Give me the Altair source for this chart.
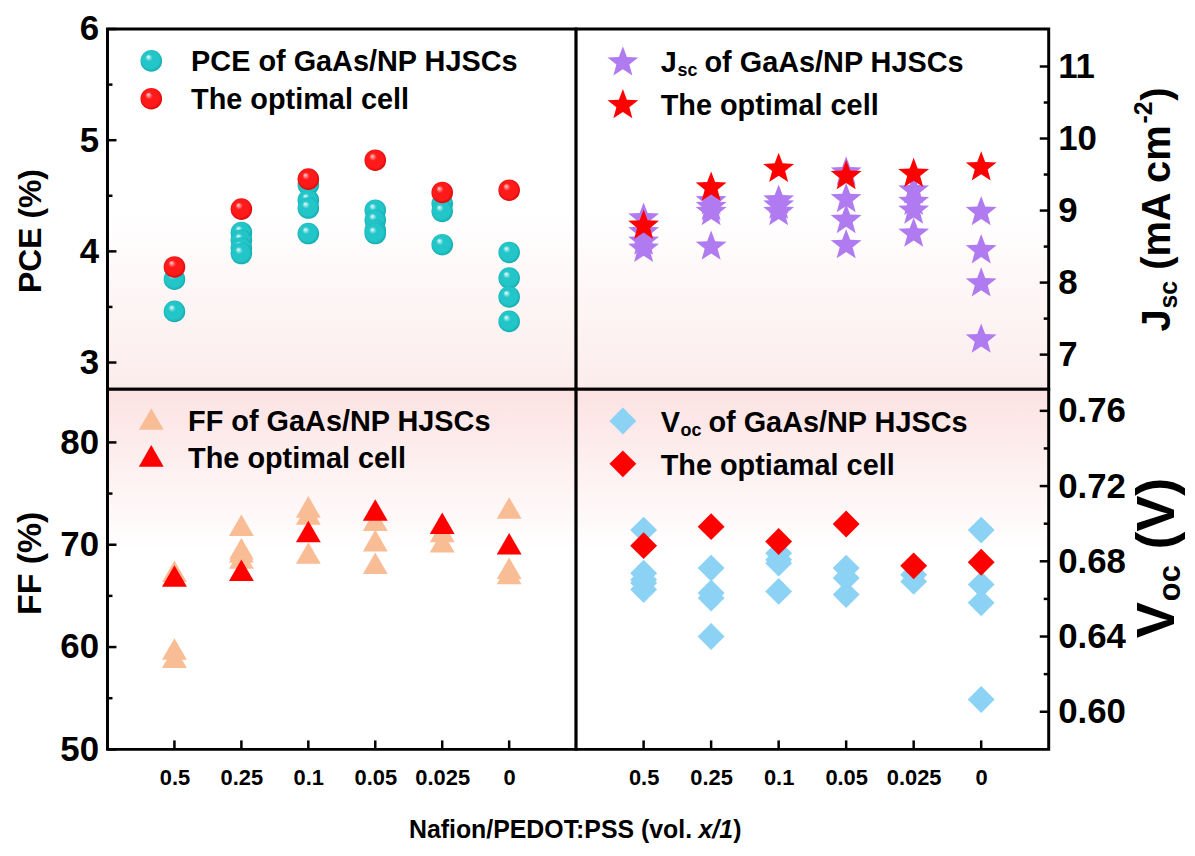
import altair as alt
import pandas as pd

FONT = "Liberation Sans"

categories = ["0.5", "0.25", "0.1", "0.05", "0.025", "0"]

# PCE (%)
pce_cells = [[3.75, 3.46], [4.17, 4.10, 4.03, 3.98], [4.60, 4.46, 4.39, 4.16],
             [4.37, 4.28, 4.19, 4.16], [4.43, 4.36, 4.06], [3.99, 3.76, 3.59, 3.37]]
pce_best = [3.86, 4.38, 4.65, 4.82, 4.53, 4.55]
pce_ticks = [3, 4, 5, 6]
pce_minor = [3.5, 4.5, 5.5]

# Jsc (mA cm-2)
jsc_cells = [[8.91, 8.72, 8.59, 8.49], [9.15, 9.07, 9.00, 8.52], [9.16, 9.09, 9.00],
             [9.55, 9.18, 8.89, 8.54], [9.30, 9.14, 9.02, 8.70], [9.00, 8.47, 8.01, 7.23]]
jsc_best = [8.81, 9.34, 9.60, 9.50, 9.53, 9.62]
jsc_ticks = [7, 8, 9, 10, 11]
jsc_minor = [7.5, 8.5, 9.5, 10.5]

# FF (%)
ff_cells = [[67.4, 59.8, 59.0], [71.9, 69.6, 69.3, 68.7], [73.7, 73.0, 69.2],
            [72.4, 70.4, 68.2], [71.3, 70.3], [73.6, 67.7, 67.2]]
ff_best = [66.95, 67.5, 71.3, 73.4, 72.1, 70.1]
ff_ticks = [50, 60, 70, 80]
ff_minor = [55, 65, 75]

# Voc (V)
voc_cells = [[0.6966, 0.6737, 0.6702, 0.6685, 0.665], [0.6764, 0.6632, 0.6605, 0.640],
             [0.6843, 0.6808, 0.679, 0.664], [0.6764, 0.6711, 0.6623],
             [0.6728, 0.6693], [0.6966, 0.6676, 0.6579, 0.6065]]
voc_best = [0.6883, 0.6984, 0.6905, 0.6998, 0.6776, 0.6795]
voc_ticks = [0.60, 0.64, 0.68, 0.72, 0.76]
voc_minor = [0.62, 0.66, 0.70, 0.74]

WL, WR, H = 471, 475, 362
STAR = ("M0,-0.905L0.247,-0.245L0.951,-0.214L0.399,0.225L0.588,0.904L0,0.515"
        "L-0.588,0.904L-0.399,0.225L-0.951,-0.214L-0.247,-0.245Z")

one = pd.DataFrame({"k": [0]})


def cells_df(cells):
    rows = []
    for c, vals in zip(categories, cells):
        for v in vals:
            rows.append({"cat": c, "value": v})
    return pd.DataFrame(rows)


def best_df(best):
    return pd.DataFrame({"cat": categories, "value": best})


def sphere(base, edge, hi):
    return alt.RadialGradient(
        gradient="radial", x1=0.35, y1=0.3, r1=0.0, x2=0.5, y2=0.5, r2=0.55,
        stops=[alt.GradientStop(color=hi, offset=0.0),
               alt.GradientStop(color=base, offset=0.3),
               alt.GradientStop(color=base, offset=0.75),
               alt.GradientStop(color=edge, offset=1.0)])


def txt(x, y, text, size, angle=0, align="left", dx=0, dy=0, style="normal"):
    return alt.Chart(one).mark_text(
        text=text, font=FONT, fontSize=size, fontWeight="bold", fontStyle=style,
        angle=angle, align=align, baseline="middle", dx=dx, dy=dy, color="black"
    ).encode(x=alt.value(x), y=alt.value(y))


def panel(cells, best, domain, ticks, minor, fmt, side, W, shape, size,
          fill_grp, fill_best, grad_stops, bottom, legend, title_layers):
    xscale = alt.Scale(type="point", domain=categories, padding=1)
    if bottom:
        xaxis = alt.Axis(orient="bottom", ticks=False, domain=False, grid=False,
                         labelFontSize=22, labelPadding=18, labelAngle=0, title=None,
                         labelFont=FONT, labelFontWeight="bold", labelColor="black")
    else:
        xaxis = None
    yaxis = alt.Axis(orient=side, values=ticks, format=fmt, ticks=False, domain=False,
                     grid=False, labelFontSize=35, labelPadding=9, title=None,
                     labelOverlap=False, labelFont=FONT, labelFontWeight="bold",
                     labelColor="black")
    yscale = alt.Scale(domain=domain, nice=False, zero=False)
    X = alt.X("cat:N", scale=xscale, axis=xaxis, sort=categories)
    Y = alt.Y("value:Q", scale=yscale, axis=yaxis)

    bg = alt.Chart(one).mark_rect(
        fill=alt.LinearGradient(gradient="linear", x1=0, y1=0, x2=0, y2=1,
                                stops=[alt.GradientStop(color=c, offset=o) for o, c in grad_stops])
    ).encode(x=alt.value(0), x2=alt.value(W), y=alt.value(0), y2=alt.value(H))

    if side == "left":
        tx0, tx1, tm1 = 0, 9, 5
    else:
        tx0, tx1, tm1 = W, W - 9, W - 5
    major = alt.Chart(pd.DataFrame({"value": ticks})).mark_rule(
        color="black", strokeWidth=2.5).encode(y=Y, x=alt.value(tx0), x2=alt.value(tx1))
    minr = alt.Chart(pd.DataFrame({"value": minor})).mark_rule(
        color="black", strokeWidth=2.5).encode(y=Y, x=alt.value(tx0), x2=alt.value(tm1))

    layers = [bg, major, minr]
    if bottom:
        xt = alt.Chart(pd.DataFrame({"cat": categories})).mark_rule(
            color="black", strokeWidth=2.5).encode(x=X, y=alt.value(H), y2=alt.value(H - 9))
        layers.append(xt)

    grp = alt.Chart(cells_df(cells)).mark_point(
        shape=shape, size=size, filled=True, fill=fill_grp, opacity=1, strokeWidth=0
    ).encode(x=X, y=Y)
    bst = alt.Chart(best_df(best)).mark_point(
        shape=shape, size=size, filled=True, fill=fill_best, opacity=1, strokeWidth=0
    ).encode(x=X, y=Y)
    layers += [grp, bst]

    (lx, ly1, ly2) = legend["sym"]
    layers.append(alt.Chart(one).mark_point(shape=shape, size=size, filled=True,
                                            fill=fill_grp, opacity=1, strokeWidth=0)
                  .encode(x=alt.value(lx), y=alt.value(ly1)))
    layers.append(alt.Chart(one).mark_point(shape=shape, size=size, filled=True,
                                            fill=fill_best, opacity=1, strokeWidth=0)
                  .encode(x=alt.value(lx), y=alt.value(ly2)))
    layers += legend["texts"]
    layers += title_layers
    frame = alt.Chart(one).mark_rect(fillOpacity=0, stroke="black", strokeWidth=3).encode(
        x=alt.value(0), x2=alt.value(W), y=alt.value(0), y2=alt.value(H))
    layers.append(frame)
    return alt.layer(*layers).properties(width=W, height=H)


top_grad = [(0.0, "#ffffff"), (0.5, "#ffffff"), (1.0, "#fcecec")]
bot_grad = [(0.0, "#fce2e2"), (0.45, "#ffffff"), (1.0, "#ffffff")]

cyan = sphere("#22c6c8", "#0f9ea6", "#ffffff")
red_s = sphere("#ff1a1a", "#c80000", "#ffe0e0")

LF = 29
tl = panel(pce_cells, pce_best, [2.76, 6.0], pce_ticks, pce_minor, "d", "left", WL,
           "circle", 470, cyan, red_s, top_grad, False,
           {"sym": (44, 32, 70),
            "texts": [txt(84, 33, "PCE of GaAs/NP HJSCs", LF),
                      txt(84, 71, "The optimal cell", LF)]},
           [txt(-77, 203, "PCE (%)", 32, angle=270, align="center")])

tr = panel(jsc_cells, jsc_best, [6.52, 11.52], jsc_ticks, jsc_minor, "d", "right", WR,
           STAR, 1060, "#b07af0", "#ff0000", top_grad, False,
           {"sym": (47, 32, 75),
            "texts": [txt(85, 34, "J", LF),
                      txt(102, 42, "sc", 18),
                      txt(129, 34, "of GaAs/NP HJSCs", LF),
                      txt(85, 77, "The optimal cell", LF)]},
           [txt(WR + 110, 304, "J", 40, angle=270, dx=0),
            txt(WR + 110, 304, "sc", 25, angle=270, dx=23, dy=11),
            txt(WR + 110, 304, "(mA cm", 40, angle=270, dx=62),
            txt(WR + 110, 304, "-2", 25, angle=270, dx=209, dy=-14),
            txt(WR + 110, 304, ")", 40, angle=270, dx=232)])

bl = panel(ff_cells, ff_best, [50.0, 85.2], ff_ticks, ff_minor, "d", "left", WL,
           "triangle-up", 625, "#f9bd96", "#ff0000", bot_grad, True,
           {"sym": (44, 30, 67),
            "texts": [txt(81, 33, "FF of GaAs/NP HJSCs", LF),
                      txt(81, 70, "The optimal cell", LF)]},
           [txt(-77, 175, "FF (%)", 34, angle=270, align="center"),
            txt(303, 443, "Nafion/PEDOT:PSS (vol.", 25),
            txt(594, 443, "x/1", 25, style="italic"),
            txt(629, 443, ")", 25)])

br = panel(voc_cells, voc_best, [0.58, 0.7715], voc_ticks, voc_minor, ".2f", "right", WR,
           "diamond", 729, "#8cd2f5", "#ff0000", bot_grad, True,
           {"sym": (47, 32, 75),
            "texts": [txt(85, 34, "V", LF),
                      txt(105, 42, "oc", 18),
                      txt(133, 34, "of GaAs/NP HJSCs", LF),
                      txt(85, 77, "The optiamal cell", LF)]},
           [txt(WR + 110, 250, "V", 54, angle=270, dx=0),
            txt(WR + 110, 250, "oc", 31, angle=270, dx=37, dy=13),
            txt(WR + 110, 250, "(V)", 54, angle=270, dx=89)])

chart = alt.concat(tl, tr, bl, br, columns=2, spacing=0, bounds="flush").configure_view(
    stroke="transparent"
).properties(background="white", padding={"left": 5, "top": 1, "right": 0, "bottom": 5})

chart.save("out.html", embed_options={"renderer": "svg", "actions": False})
